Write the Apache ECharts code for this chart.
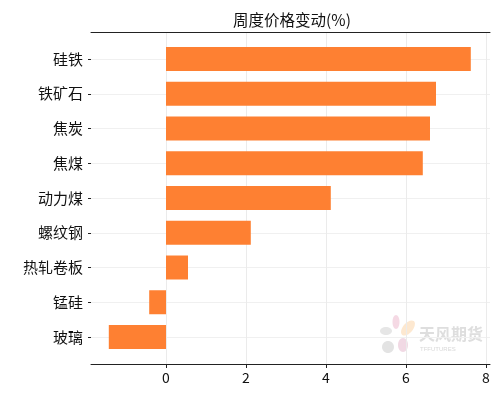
<!DOCTYPE html>
<html><head><meta charset="utf-8">
<script src="https://cdn.jsdelivr.net/npm/echarts@6/dist/echarts.min.js"></script>
<style>html,body{margin:0;padding:0;background:#fff}#c{width:504px;height:396px}</style>
</head><body><div id="c"></div>
<script>
const categories = ['硅铁','铁矿石','焦炭','焦煤','动力煤','螺纹钢','热轧卷板','锰硅','玻璃'];
const values = [7.62, 6.75, 6.6, 6.42, 4.12, 2.12, 0.55, -0.42, -1.43];
const xTicks = [0, 2, 4, 6, 8];
const xMin = -1.875, xMax = 8.1;
const titleText = '周度价格变动(%)';
const FONT = '"Noto Sans CJK SC", "Microsoft YaHei", sans-serif';

const chart = echarts.init(document.getElementById('c'), null, {renderer:'canvas'});
chart.setOption({
  backgroundColor: '#fff',
  animation: false,
  title: {text: titleText, left: 287, textAlign: 'center', top: 7,
    textStyle: {fontFamily: FONT, fontSize: 15.5, fontWeight: 'normal', color: '#111'}},
  grid: [
    {left: 91, right: 14, top: 32, bottom: 32},
    {left: 91, right: 14, top: 59, bottom: 59}
  ],
  xAxis: [
    {gridIndex: 0, type: 'value', min: xMin, max: xMax, position: 'bottom',
     axisLine: {show: true, onZero: false, lineStyle: {color: '#222', width: 1}},
     axisTick: {show: true, length: 4, lineStyle: {color: '#222'}, customValues: xTicks},
     axisLabel: {customValues: xTicks, color: '#111', fontSize: 14, fontFamily: FONT, margin: 7},
     splitLine: {show: true, lineStyle: {color: '#ebebeb', width: 1}}},
    {gridIndex: 0, type: 'value', min: xMin, max: xMax, position: 'top',
     axisLine: {show: true, onZero: false, lineStyle: {color: '#222', width: 1}},
     axisTick: {show: false}, axisLabel: {show: false}, splitLine: {show: false}},
    {gridIndex: 1, type: 'value', min: xMin, max: xMax, show: false}
  ],
  yAxis: [
    {gridIndex: 0, type: 'value', show: false},
    {gridIndex: 1, type: 'category', data: categories, inverse: true, boundaryGap: false,
     axisLine: {show: false, onZero: false},
     axisTick: {show: true, length: 3, lineStyle: {color: '#222'}},
     axisLabel: {color: '#111', fontSize: 15, fontFamily: FONT, margin: 8},
     splitLine: {show: true, lineStyle: {color: '#f0f0f0', width: 1}}}
  ],
  series: [{
    type: 'bar', xAxisIndex: 2, yAxisIndex: 1, data: values,
    barWidth: 24, clip: false,
    itemStyle: {color: '#FE8032'}
  }],
  graphic: [
    {type: 'ellipse', shape: {cx: 396, cy: 322, rx: 3.5, ry: 7}, style: {fill: 'rgba(232,170,195,0.45)'}, silent: true},
    {type: 'ellipse', shape: {cx: 408, cy: 328, rx: 5, ry: 9}, rotation: -0.7, originX: 408, originY: 328, style: {fill: 'rgba(250,205,150,0.45)'}, silent: true},
    {type: 'ellipse', shape: {cx: 386, cy: 331, rx: 6, ry: 4}, style: {fill: 'rgba(205,205,205,0.5)'}, silent: true},
    {type: 'ellipse', shape: {cx: 388, cy: 347, rx: 6, ry: 6}, style: {fill: 'rgba(200,200,200,0.5)'}, silent: true},
    {type: 'ellipse', shape: {cx: 403, cy: 345, rx: 5, ry: 7}, style: {fill: 'rgba(225,170,195,0.45)'}, silent: true},
    {type: 'text', left: 419, top: 326, silent: true,
     style: {text: '天风期货', font: 'bold 16px ' + FONT, fill: 'rgba(200,200,200,0.6)'}},
    {type: 'text', left: 420, top: 346, silent: true,
     style: {text: 'TFFUTURES', font: '6px sans-serif', fill: 'rgba(200,200,200,0.7)'}}
  ]
});
</script></body></html>
